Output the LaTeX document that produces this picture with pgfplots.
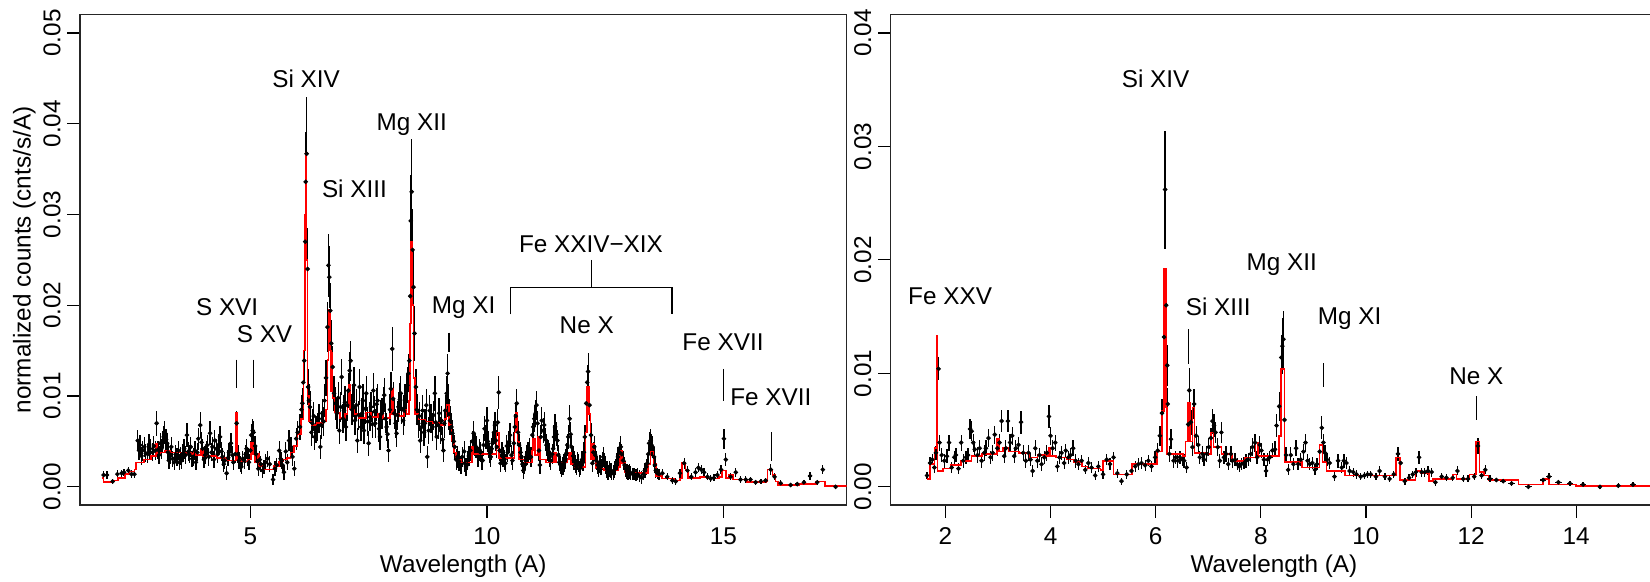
\documentclass[border=0pt]{standalone}
\usepackage{pgfplots}
\pgfplotsset{compat=1.18}
\usepackage{pgfplotstable}
\usepackage{fontspec}
\setmainfont{Liberation Sans}

% left panel data: x y err
\pgfplotstableread{
x y e
1.90 0.0013 0.0004
1.97 0.0013 0.0004
2.09 0.0006 0.0003
2.19 0.0014 0.0004
2.28 0.0015 0.0004
2.33 0.0016 0.0004
2.42 0.0018 0.0004
2.49 0.0014 0.0004
2.55 0.0014 0.0004
2.62 0.0051 0.0012
2.65 0.0040 0.0010
2.67 0.0046 0.0011
2.70 0.0034 0.0010
2.72 0.0040 0.0011
2.76 0.0044 0.0011
2.79 0.0037 0.0010
2.83 0.0036 0.0010
2.86 0.0047 0.0011
2.88 0.0042 0.0011
2.93 0.0038 0.0010
2.96 0.0045 0.0011
2.99 0.0040 0.0010
3.02 0.0070 0.0014
3.05 0.0041 0.0010
3.07 0.0035 0.0010
3.10 0.0048 0.0011
3.12 0.0042 0.0011
3.15 0.0050 0.0012
3.17 0.0055 0.0012
3.19 0.0060 0.0013
3.22 0.0052 0.0012
3.24 0.0048 0.0011
3.26 0.0038 0.0010
3.28 0.0029 0.0009
3.31 0.0035 0.0010
3.33 0.0044 0.0011
3.36 0.0031 0.0009
3.39 0.0027 0.0009
3.42 0.0036 0.0010
3.45 0.0033 0.0010
3.48 0.0040 0.0010
3.50 0.0027 0.0009
3.53 0.0034 0.0010
3.55 0.0029 0.0009
3.58 0.0037 0.0010
3.60 0.0042 0.0011
3.63 0.0035 0.0010
3.66 0.0057 0.0013
3.69 0.0039 0.0010
3.71 0.0036 0.0010
3.74 0.0044 0.0011
3.77 0.0031 0.0009
3.80 0.0033 0.0010
3.83 0.0040 0.0010
3.85 0.0027 0.0009
3.88 0.0038 0.0010
3.90 0.0053 0.0012
3.94 0.0068 0.0014
3.97 0.0049 0.0011
3.99 0.0042 0.0011
4.02 0.0030 0.0009
4.04 0.0035 0.0010
4.07 0.0041 0.0010
4.09 0.0046 0.0011
4.12 0.0033 0.0010
4.15 0.0059 0.0013
4.18 0.0038 0.0010
4.20 0.0044 0.0011
4.23 0.0030 0.0009
4.25 0.0051 0.0012
4.28 0.0042 0.0011
4.31 0.0036 0.0010
4.34 0.0047 0.0011
4.36 0.0055 0.0012
4.39 0.0039 0.0010
4.41 0.0033 0.0010
4.44 0.0025 0.0009
4.46 0.0029 0.0009
4.50 0.0015 0.0008
4.53 0.0032 0.0009
4.55 0.0038 0.0010
4.59 0.0048 0.0011
4.62 0.0035 0.0010
4.64 0.0027 0.0009
4.68 0.0036 0.0010
4.71 0.0070 0.0014
4.74 0.0036 0.0010
4.76 0.0029 0.0009
4.79 0.0025 0.0009
4.81 0.0022 0.0008
4.84 0.0031 0.0009
4.87 0.0029 0.0009
4.90 0.0036 0.0010
4.92 0.0042 0.0011
4.95 0.0033 0.0010
4.97 0.0027 0.0009
5.00 0.0040 0.0010
5.02 0.0057 0.0012
5.05 0.0062 0.0013
5.07 0.0060 0.0013
5.10 0.0045 0.0011
5.12 0.0036 0.0010
5.15 0.0028 0.0009
5.17 0.0020 0.0008
5.20 0.0030 0.0009
5.22 0.0025 0.0009
5.26 0.0018 0.0008
5.29 0.0022 0.0008
5.32 0.0027 0.0009
5.36 0.0031 0.0009
5.41 0.0025 0.0009
5.48 0.0008 0.0006
5.52 0.0020 0.0008
5.56 0.0024 0.0008
5.61 0.0040 0.0010
5.64 0.0031 0.0009
5.66 0.0029 0.0009
5.68 0.0024 0.0008
5.71 0.0016 0.0008
5.75 0.0039 0.0010
5.78 0.0027 0.0009
5.82 0.0051 0.0012
5.86 0.0044 0.0011
5.89 0.0033 0.0010
5.93 0.0020 0.0008
5.97 0.0053 0.0012
6.00 0.0060 0.0013
6.05 0.0066 0.0014
6.08 0.0085 0.0016
6.10 0.0092 0.0017
6.12 0.0115 0.0020
6.14 0.0139 0.0022
6.16 0.0270 0.0045
6.17 0.0336 0.0055
6.19 0.0367 0.0062
6.21 0.0240 0.0045
6.22 0.0110 0.0020
6.24 0.0095 0.0018
6.26 0.0088 0.0018
6.29 0.0060 0.0015
6.31 0.0070 0.0016
6.34 0.0078 0.0016
6.36 0.0055 0.0014
6.39 0.0063 0.0015
6.42 0.0066 0.0015
6.45 0.0075 0.0016
6.48 0.0044 0.0013
6.50 0.0068 0.0015
6.52 0.0081 0.0016
6.55 0.0072 0.0016
6.57 0.0095 0.0018
6.60 0.0120 0.0020
6.63 0.0176 0.0028
6.65 0.0244 0.0035
6.67 0.0231 0.0034
6.69 0.0194 0.0030
6.71 0.0158 0.0026
6.74 0.0132 0.0023
6.77 0.0103 0.0019
6.80 0.0092 0.0018
6.83 0.0081 0.0017
6.86 0.0098 0.0018
6.88 0.0062 0.0015
6.91 0.0088 0.0017
6.93 0.0121 0.0020
6.96 0.0075 0.0016
6.98 0.0084 0.0017
7.00 0.0093 0.0018
7.02 0.0066 0.0015
7.05 0.0090 0.0018
7.07 0.0106 0.0019
7.10 0.0128 0.0021
7.12 0.0139 0.0022
7.15 0.0085 0.0017
7.17 0.0095 0.0018
7.19 0.0112 0.0020
7.21 0.0073 0.0016
7.24 0.0090 0.0018
7.26 0.0051 0.0014
7.29 0.0079 0.0016
7.31 0.0110 0.0020
7.34 0.0066 0.0015
7.36 0.0081 0.0017
7.38 0.0095 0.0018
7.40 0.0062 0.0015
7.43 0.0086 0.0017
7.45 0.0103 0.0019
7.48 0.0072 0.0016
7.50 0.0048 0.0014
7.53 0.0077 0.0016
7.55 0.0088 0.0017
7.58 0.0069 0.0015
7.60 0.0106 0.0019
7.62 0.0083 0.0017
7.64 0.0070 0.0016
7.67 0.0091 0.0018
7.69 0.0095 0.0018
7.72 0.0064 0.0015
7.74 0.0055 0.0014
7.76 0.0080 0.0016
7.78 0.0081 0.0017
7.81 0.0092 0.0018
7.83 0.0101 0.0019
7.86 0.0075 0.0016
7.88 0.0066 0.0015
7.90 0.0058 0.0015
7.92 0.0040 0.0013
7.95 0.0085 0.0017
7.97 0.0108 0.0019
8.00 0.0152 0.0024
8.02 0.0097 0.0018
8.04 0.0081 0.0017
8.07 0.0070 0.0016
8.09 0.0059 0.0015
8.11 0.0079 0.0016
8.13 0.0088 0.0017
8.16 0.0096 0.0018
8.18 0.0103 0.0019
8.20 0.0086 0.0017
8.23 0.0073 0.0016
8.25 0.0084 0.0017
8.27 0.0095 0.0018
8.30 0.0105 0.0019
8.32 0.0112 0.0020
8.34 0.0125 0.0021
8.36 0.0139 0.0022
8.38 0.0210 0.0035
8.39 0.0293 0.0050
8.41 0.0325 0.0058
8.43 0.0261 0.0045
8.45 0.0220 0.0040
8.47 0.0169 0.0030
8.50 0.0110 0.0020
8.52 0.0085 0.0017
8.55 0.0070 0.0016
8.57 0.0078 0.0016
8.59 0.0051 0.0014
8.62 0.0066 0.0015
8.64 0.0084 0.0017
8.67 0.0060 0.0015
8.69 0.0070 0.0016
8.72 0.0090 0.0018
8.74 0.0033 0.0012
8.77 0.0062 0.0015
8.79 0.0084 0.0017
8.82 0.0075 0.0016
8.85 0.0066 0.0015
8.87 0.0079 0.0016
8.90 0.0103 0.0019
8.92 0.0071 0.0016
8.94 0.0055 0.0014
8.97 0.0068 0.0015
8.99 0.0081 0.0017
9.02 0.0062 0.0015
9.04 0.0073 0.0016
9.06 0.0052 0.0014
9.08 0.0040 0.0013
9.10 0.0070 0.0016
9.12 0.0084 0.0017
9.15 0.0103 0.0019
9.17 0.0125 0.0021
9.18 0.0095 0.0018
9.20 0.0080 0.0017
9.22 0.0073 0.0016
9.25 0.0066 0.0015
9.27 0.0059 0.0015
9.30 0.0050 0.0014
9.32 0.0044 0.0013
9.35 0.0030 0.0012
9.38 0.0033 0.0012
9.41 0.0028 0.0011
9.45 0.0024 0.0010
9.48 0.0033 0.0011
9.52 0.0039 0.0011
9.53 0.0026 0.0010
9.56 0.0022 0.0010
9.59 0.0029 0.0011
9.62 0.0034 0.0011
9.65 0.0040 0.0012
9.69 0.0050 0.0012
9.72 0.0059 0.0013
9.75 0.0046 0.0012
9.77 0.0044 0.0012
9.81 0.0033 0.0011
9.84 0.0041 0.0012
9.86 0.0038 0.0011
9.89 0.0030 0.0011
9.91 0.0029 0.0011
9.93 0.0046 0.0012
9.95 0.0064 0.0014
9.98 0.0055 0.0013
10.00 0.0073 0.0015
10.02 0.0050 0.0012
10.04 0.0044 0.0012
10.06 0.0037 0.0011
10.08 0.0033 0.0011
10.10 0.0042 0.0012
10.12 0.0048 0.0012
10.15 0.0060 0.0013
10.17 0.0068 0.0014
10.19 0.0051 0.0012
10.21 0.0044 0.0012
10.23 0.0071 0.0015
10.25 0.0104 0.0018
10.27 0.0040 0.0012
10.29 0.0026 0.0010
10.32 0.0038 0.0011
10.34 0.0033 0.0011
10.37 0.0030 0.0011
10.39 0.0026 0.0010
10.42 0.0045 0.0012
10.44 0.0038 0.0011
10.47 0.0050 0.0012
10.49 0.0057 0.0013
10.52 0.0035 0.0011
10.54 0.0029 0.0011
10.57 0.0048 0.0012
10.59 0.0066 0.0014
10.61 0.0078 0.0015
10.63 0.0092 0.0016
10.66 0.0060 0.0013
10.68 0.0046 0.0012
10.71 0.0038 0.0011
10.73 0.0033 0.0011
10.75 0.0025 0.0010
10.77 0.0018 0.0009
10.80 0.0024 0.0010
10.82 0.0029 0.0011
10.85 0.0035 0.0011
10.87 0.0038 0.0011
10.90 0.0042 0.0012
10.93 0.0033 0.0011
10.96 0.0057 0.0013
10.98 0.0066 0.0014
11.00 0.0075 0.0015
11.03 0.0081 0.0015
11.05 0.0090 0.0016
11.07 0.0070 0.0014
11.10 0.0040 0.0012
11.12 0.0024 0.0010
11.14 0.0055 0.0013
11.16 0.0073 0.0015
11.19 0.0062 0.0014
11.21 0.0068 0.0014
11.24 0.0052 0.0013
11.26 0.0046 0.0012
11.29 0.0040 0.0012
11.31 0.0037 0.0011
11.33 0.0033 0.0011
11.35 0.0029 0.0011
11.38 0.0036 0.0011
11.40 0.0042 0.0012
11.42 0.0055 0.0013
11.44 0.0066 0.0014
11.47 0.0058 0.0013
11.49 0.0051 0.0012
11.51 0.0035 0.0011
11.53 0.0027 0.0010
11.56 0.0024 0.0010
11.58 0.0020 0.0009
11.61 0.0023 0.0010
11.63 0.0026 0.0010
11.66 0.0031 0.0011
11.68 0.0037 0.0011
11.70 0.0046 0.0012
11.72 0.0055 0.0013
11.75 0.0075 0.0015
11.77 0.0058 0.0013
11.79 0.0044 0.0012
11.82 0.0034 0.0011
11.84 0.0029 0.0010
11.87 0.0025 0.0010
11.89 0.0022 0.0009
11.91 0.0028 0.0010
11.93 0.0026 0.0010
11.96 0.0020 0.0009
11.98 0.0022 0.0009
12.01 0.0030 0.0010
12.03 0.0027 0.0010
12.05 0.0038 0.0011
12.07 0.0055 0.0013
12.10 0.0092 0.0017
12.12 0.0115 0.0019
12.14 0.0127 0.0020
12.17 0.0090 0.0017
12.20 0.0057 0.0013
12.23 0.0026 0.0010
12.25 0.0038 0.0011
12.27 0.0044 0.0012
12.29 0.0035 0.0011
12.31 0.0029 0.0010
12.34 0.0024 0.0010
12.36 0.0020 0.0009
12.39 0.0025 0.0010
12.41 0.0022 0.0009
12.44 0.0028 0.0010
12.46 0.0033 0.0011
12.49 0.0027 0.0010
12.51 0.0024 0.0010
12.54 0.0019 0.0009
12.56 0.0016 0.0008
12.59 0.0020 0.0009
12.62 0.0018 0.0008
12.64 0.0015 0.0008
12.67 0.0016 0.0008
12.70 0.0019 0.0009
12.72 0.0022 0.0009
12.75 0.0027 0.0010
12.77 0.0033 0.0011
12.80 0.0038 0.0011
12.83 0.0044 0.0012
12.85 0.0036 0.0011
12.88 0.0029 0.0010
12.91 0.0024 0.0009
12.93 0.0020 0.0009
12.96 0.0017 0.0008
12.98 0.0016 0.0008
13.01 0.0017 0.0008
13.04 0.0015 0.0008
13.08 0.0014 0.0007
13.11 0.0014 0.0007
13.15 0.0013 0.0007
13.18 0.0014 0.0007
13.22 0.0012 0.0007
13.27 0.0010 0.0007
13.31 0.0014 0.0007
13.34 0.0018 0.0008
13.37 0.0022 0.0009
13.39 0.0026 0.0010
13.41 0.0036 0.0011
13.43 0.0048 0.0012
13.46 0.0051 0.0013
13.48 0.0046 0.0012
13.50 0.0044 0.0012
13.53 0.0033 0.0011
13.55 0.0024 0.0009
13.57 0.0018 0.0008
13.60 0.0015 0.0006
13.64 0.0014 0.0006
}\leftdata

\pgfplotstableread{
x y e
13.71 0.0015 0.0005
13.81 0.0011 0.0004
13.92 0.0007 0.0004
13.99 0.0006 0.0004
14.08 0.0015 0.0005
14.17 0.0026 0.0006
14.24 0.0018 0.0005
14.32 0.0011 0.0004
14.41 0.0016 0.0005
14.47 0.0021 0.0005
14.53 0.0019 0.0005
14.59 0.0016 0.0005
14.66 0.0011 0.0004
14.73 0.0009 0.0004
14.80 0.0010 0.0004
14.87 0.0013 0.0004
14.95 0.0019 0.0005
15.01 0.0053 0.0011
15.05 0.0030 0.0007
15.15 0.0011 0.0004
15.26 0.0016 0.0005
15.36 0.0008 0.0004
15.47 0.0008 0.0004
15.57 0.0008 0.0003
15.68 0.0005 0.0003
15.79 0.0006 0.0003
15.89 0.0007 0.0003
16.00 0.0019 0.0006
16.08 0.0011 0.0004
16.21 0.0004 0.0003
16.42 0.0002 0.0002
16.56 0.0003 0.0002
16.70 0.0005 0.0003
16.83 0.0012 0.0004
16.98 0.0005 0.0003
17.10 0.0019 0.0005
17.37 0.0000 0.0002
}\lefttail

% left panel model (step function)
\pgfplotstableread{
x y
1.87 0.0010
1.90 0.0005
2.10 0.0007
2.20 0.0010
2.35 0.0014
2.45 0.0017
2.55 0.0019
2.58 0.0027
2.75 0.0030
2.90 0.0034
3.00 0.0047
3.04 0.0036
3.10 0.0038
3.20 0.0040
3.30 0.0038
3.60 0.0037
3.75 0.0036
3.80 0.0039
3.85 0.0035
3.96 0.0041
4.00 0.0034
4.30 0.0032
4.50 0.0029
4.70 0.0082
4.73 0.0030
4.80 0.0028
4.95 0.0030
5.02 0.0049
5.06 0.0036
5.10 0.0027
5.15 0.0036
5.18 0.0023
5.30 0.0019
5.50 0.0023
5.60 0.0028
5.70 0.0030
5.78 0.0032
5.85 0.0038
5.92 0.0045
6.00 0.0058
6.07 0.0075
6.12 0.0150
6.15 0.0300
6.17 0.0368
6.19 0.0250
6.21 0.0100
6.24 0.0072
6.30 0.0068
6.40 0.0070
6.55 0.0072
6.60 0.0085
6.63 0.0140
6.65 0.0195
6.68 0.0150
6.70 0.0105
6.72 0.0148
6.74 0.0098
6.78 0.0082
6.90 0.0076
7.00 0.0080
7.05 0.0090
7.08 0.0112
7.11 0.0085
7.20 0.0080
7.30 0.0076
7.45 0.0082
7.55 0.0077
7.70 0.0081
7.80 0.0076
7.95 0.0080
7.99 0.0108
8.03 0.0080
8.15 0.0078
8.25 0.0085
8.30 0.0080
8.35 0.0095
8.38 0.0180
8.40 0.0270
8.43 0.0200
8.45 0.0120
8.48 0.0080
8.55 0.0074
8.70 0.0072
8.85 0.0070
9.00 0.0068
9.10 0.0075
9.15 0.0090
9.20 0.0068
9.25 0.0050
9.30 0.0038
9.35 0.0030
9.45 0.0027
9.68 0.0044
9.71 0.0036
10.20 0.0060
10.26 0.0032
10.55 0.0032
10.58 0.0060
10.61 0.0082
10.65 0.0050
10.68 0.0030
10.80 0.0027
10.95 0.0040
10.98 0.0053
11.02 0.0035
11.08 0.0055
11.12 0.0030
11.25 0.0027
11.42 0.0037
11.46 0.0027
11.70 0.0030
11.74 0.0037
11.78 0.0025
11.85 0.0022
12.05 0.0022
12.08 0.0060
12.11 0.0110
12.16 0.0080
12.19 0.0030
12.22 0.0047
12.26 0.0030
12.30 0.0020
12.48 0.0018
12.78 0.0022
12.81 0.0040
12.86 0.0026
12.92 0.0016
13.00 0.0015
13.30 0.0015
13.40 0.0025
13.46 0.0039
13.52 0.0025
13.58 0.0012
13.70 0.0009
13.95 0.0007
14.08 0.0009
14.12 0.0027
14.20 0.0018
14.25 0.0010
14.50 0.0011
14.65 0.0009
14.90 0.0011
14.97 0.0018
15.05 0.0010
15.12 0.0013
15.20 0.0008
15.50 0.0005
15.90 0.0006
15.93 0.0019
16.04 0.0013
16.10 0.0006
16.15 0.0002
16.60 0.0003
16.95 0.0006
17.15 0.0001
17.60 0.0000
}\leftmodel

% right panel data
\pgfplotstableread{
x y e
1.65 0.0010 0.0003
1.71 0.0021 0.0005
1.75 0.0024 0.0005
1.79 0.0017 0.0005
1.82 0.0030 0.0006
1.87 0.0104 0.0010
1.89 0.0039 0.0007
1.93 0.0028 0.0006
1.98 0.0023 0.0006
2.03 0.0027 0.0006
2.07 0.0039 0.0007
2.12 0.0017 0.0005
2.17 0.0026 0.0006
2.20 0.0028 0.0006
2.25 0.0016 0.0005
2.30 0.0039 0.0007
2.34 0.0023 0.0006
2.39 0.0026 0.0006
2.43 0.0028 0.0006
2.47 0.0051 0.0009
2.50 0.0049 0.0009
2.53 0.0039 0.0008
2.56 0.0033 0.0007
2.61 0.0028 0.0007
2.65 0.0034 0.0007
2.69 0.0023 0.0006
2.74 0.0030 0.0007
2.77 0.0034 0.0007
2.82 0.0043 0.0008
2.86 0.0026 0.0006
2.90 0.0030 0.0007
2.94 0.0046 0.0008
2.99 0.0034 0.0007
3.03 0.0039 0.0008
3.07 0.0058 0.0010
3.12 0.0027 0.0006
3.15 0.0034 0.0007
3.19 0.0058 0.0010
3.23 0.0039 0.0008
3.27 0.0045 0.0008
3.31 0.0027 0.0006
3.34 0.0034 0.0007
3.39 0.0037 0.0007
3.44 0.0057 0.0010
3.48 0.0030 0.0007
3.53 0.0023 0.0006
3.58 0.0030 0.0007
3.62 0.0024 0.0006
3.66 0.0014 0.0005
3.71 0.0034 0.0007
3.75 0.0023 0.0006
3.79 0.0028 0.0006
3.83 0.0020 0.0006
3.88 0.0026 0.0006
3.93 0.0030 0.0007
3.97 0.0062 0.0010
4.00 0.0045 0.0008
4.04 0.0034 0.0007
4.09 0.0039 0.0007
4.13 0.0018 0.0005
4.17 0.0026 0.0006
4.21 0.0030 0.0006
4.26 0.0021 0.0005
4.29 0.0032 0.0006
4.34 0.0026 0.0006
4.38 0.0028 0.0006
4.43 0.0034 0.0007
4.48 0.0023 0.0006
4.53 0.0020 0.0005
4.59 0.0023 0.0005
4.66 0.0015 0.0004
4.72 0.0021 0.0005
4.78 0.0017 0.0005
4.85 0.0010 0.0004
4.91 0.0018 0.0005
5.00 0.0011 0.0004
5.07 0.0024 0.0005
5.13 0.0020 0.0005
5.20 0.0026 0.0005
5.27 0.0012 0.0004
5.35 0.0005 0.0003
5.45 0.0011 0.0004
5.54 0.0014 0.0004
5.61 0.0018 0.0005
5.67 0.0020 0.0005
5.73 0.0021 0.0005
5.80 0.0019 0.0005
5.86 0.0023 0.0005
5.92 0.0018 0.0005
5.99 0.0026 0.0006
6.04 0.0032 0.0007
6.08 0.0045 0.0009
6.12 0.0065 0.0012
6.16 0.0132 0.0020
6.18 0.0262 0.0052
6.20 0.0160 0.0025
6.22 0.0107 0.0018
6.23 0.0073 0.0014
6.26 0.0029 0.0007
6.29 0.0042 0.0009
6.34 0.0023 0.0006
6.38 0.0026 0.0006
6.42 0.0023 0.0006
6.46 0.0026 0.0006
6.51 0.0024 0.0006
6.54 0.0023 0.0006
6.59 0.0017 0.0005
6.62 0.0055 0.0011
6.64 0.0085 0.0020
6.67 0.0057 0.0011
6.70 0.0035 0.0008
6.73 0.0073 0.0013
6.77 0.0045 0.0009
6.81 0.0037 0.0008
6.84 0.0026 0.0006
6.89 0.0029 0.0007
6.92 0.0024 0.0006
6.97 0.0029 0.0007
7.01 0.0035 0.0008
7.05 0.0043 0.0009
7.08 0.0058 0.0011
7.11 0.0054 0.0010
7.14 0.0048 0.0009
7.18 0.0035 0.0008
7.22 0.0023 0.0006
7.25 0.0048 0.0009
7.30 0.0026 0.0006
7.34 0.0029 0.0007
7.38 0.0020 0.0005
7.43 0.0029 0.0007
7.46 0.0023 0.0006
7.51 0.0024 0.0006
7.55 0.0020 0.0005
7.59 0.0018 0.0005
7.63 0.0020 0.0005
7.68 0.0021 0.0005
7.72 0.0023 0.0006
7.76 0.0024 0.0006
7.81 0.0029 0.0007
7.84 0.0035 0.0008
7.89 0.0039 0.0008
7.93 0.0026 0.0006
7.98 0.0037 0.0008
8.01 0.0032 0.0007
8.06 0.0024 0.0006
8.10 0.0014 0.0005
8.13 0.0024 0.0006
8.17 0.0026 0.0006
8.22 0.0032 0.0007
8.27 0.0033 0.0007
8.30 0.0054 0.0010
8.35 0.0071 0.0013
8.39 0.0114 0.0020
8.41 0.0124 0.0025
8.43 0.0130 0.0025
8.45 0.0059 0.0011
8.48 0.0028 0.0007
8.52 0.0015 0.0005
8.57 0.0028 0.0007
8.62 0.0020 0.0005
8.67 0.0034 0.0007
8.71 0.0020 0.0005
8.76 0.0024 0.0006
8.81 0.0031 0.0007
8.85 0.0039 0.0008
8.89 0.0023 0.0006
8.93 0.0020 0.0005
8.98 0.0021 0.0005
9.03 0.0015 0.0005
9.07 0.0020 0.0005
9.12 0.0031 0.0007
9.16 0.0052 0.0010
9.19 0.0039 0.0008
9.22 0.0030 0.0007
9.26 0.0024 0.0006
9.31 0.0021 0.0005
9.40 0.0009 0.0004
9.47 0.0023 0.0006
9.54 0.0017 0.0005
9.58 0.0023 0.0006
9.63 0.0021 0.0005
9.69 0.0014 0.0004
9.76 0.0013 0.0004
9.82 0.0011 0.0004
9.90 0.0009 0.0003
9.97 0.0010 0.0003
10.03 0.0011 0.0003
10.09 0.0011 0.0003
10.19 0.0009 0.0003
10.26 0.0014 0.0004
10.36 0.0009 0.0003
10.45 0.0007 0.0003
10.53 0.0011 0.0003
10.61 0.0029 0.0006
10.66 0.0021 0.0005
10.74 0.0005 0.0003
10.82 0.0008 0.0003
10.89 0.0011 0.0003
10.95 0.0013 0.0004
11.01 0.0026 0.0006
11.06 0.0013 0.0004
11.12 0.0013 0.0004
11.18 0.0014 0.0004
11.25 0.0013 0.0004
11.32 0.0004 0.0003
11.44 0.0009 0.0003
11.53 0.0008 0.0003
11.65 0.0008 0.0003
11.74 0.0014 0.0004
11.85 0.0007 0.0003
11.94 0.0007 0.0003
12.06 0.0009 0.0003
12.13 0.0036 0.0007
12.20 0.0010 0.0003
12.27 0.0015 0.0004
}\rightdata

\pgfplotstableread{
x y e
12.36 0.0007 0.0003
12.48 0.0006 0.0002
12.61 0.0005 0.0002
12.77 0.0003 0.0002
13.09 0.0000 0.0002
13.37 0.0006 0.0002
13.48 0.0009 0.0003
13.66 0.0004 0.0002
13.88 0.0003 0.0002
14.13 0.0002 0.0002
14.45 0.0000 0.0002
14.80 0.0001 0.0002
15.08 0.0002 0.0002
}\righttail

% right panel model
\pgfplotstableread{
x y
1.65 0.0007
1.71 0.0020
1.79 0.0034
1.83 0.0133
1.85 0.0014
1.95 0.0016
2.10 0.0019
2.30 0.0023
2.50 0.0027
2.70 0.0029
2.98 0.0042
3.02 0.0031
3.10 0.0034
3.20 0.0031
3.40 0.0030
3.60 0.0026
3.75 0.0028
3.92 0.0027
3.97 0.0034
3.99 0.0027
4.10 0.0026
4.30 0.0024
4.45 0.0022
4.60 0.0018
4.70 0.0016
4.95 0.0015
5.00 0.0023
5.20 0.0011
5.55 0.0020
5.90 0.0020
6.02 0.0031
6.12 0.0067
6.16 0.0192
6.20 0.0070
6.22 0.0029
6.52 0.0027
6.57 0.0040
6.61 0.0074
6.65 0.0040
6.70 0.0070
6.74 0.0030
6.98 0.0029
7.05 0.0048
7.10 0.0035
7.25 0.0029
7.45 0.0023
7.70 0.0026
7.90 0.0039
7.95 0.0027
8.20 0.0027
8.35 0.0045
8.38 0.0104
8.45 0.0022
8.78 0.0017
9.12 0.0037
9.17 0.0022
9.25 0.0014
9.60 0.0010
10.57 0.0026
10.65 0.0006
10.94 0.0014
11.04 0.0012
11.20 0.0005
11.28 0.0007
11.66 0.0011
11.72 0.0007
11.97 0.0011
12.09 0.0040
12.16 0.0013
12.25 0.0010
12.33 0.0006
12.90 0.0002
13.37 0.0007
13.48 0.0002
14.00 0.0001
15.54 0.0000
}\rightmodel

\pgfplotsset{
  refaxis/.style={
    scale only axis, width=383.25pt, height=245.1pt,
    axis line style={line width=0.6pt, black!85},
    tick align=outside, xtick pos=bottom, ytick pos=left,
    major tick length=6.3pt,
    every tick/.style={line width=0.6pt, black},
    scaled y ticks=false,
    /pgf/number format/assume math mode=true,
    yticklabel style={rotate=90, anchor=south, inner sep=0pt,
      /pgf/number format/fixed, /pgf/number format/fixed zerofill,
      /pgf/number format/precision=2},
    yticklabel shift=3.2pt,
    xticklabel style={anchor=base, inner sep=0pt},
    xticklabel shift=13.6pt,
    xlabel={Wavelength (A)},
    xlabel style={at={(axis description cs:0.5,-0.1387)}, anchor=base, inner sep=0pt},
  },
  datastyle/.style={only marks, mark=*, mark size=0.95pt, black,
    error bars/.cd, y dir=both, y explicit, x dir=both, x fixed=#1,
    error mark=none, error bar style={line width=0.65pt, black}},
  modelstyle/.style={const plot, red, line width=0.8pt, mark=none},
}

\begin{document}
\fontsize{12.15pt}{14pt}\selectfont
\begin{tikzpicture}
\useasboundingbox (0,0) rectangle (825pt,291pt);
% ---------------- left panel ----------------
\begin{axis}[refaxis, at={(40pt,38.5pt)}, anchor=south west,
  xmin=1.4, xmax=17.6, ymin=-0.002, ymax=0.052,
  xtick={5,10,15}, ytick={0,0.01,0.02,0.03,0.04,0.05},
  ylabel={normalized counts (cnts/s/A)},
  ylabel style={at={(axis description cs:-0.0643,0.5)}, anchor=base, inner sep=0pt},
]
\addplot[datastyle=0.012] table[x=x, y=y, y error=e] {\leftdata};
\addplot[datastyle=0.04] table[x=x, y=y, y error=e] {\lefttail};
\addplot[modelstyle] table[x=x, y=y] {\leftmodel};
\node[anchor=base] at (axis cs:6.18,0.0440) {Si XIV};
\node[anchor=base] at (axis cs:8.41,0.0393) {Mg XII};
\node[anchor=base] at (axis cs:7.20,0.0319) {Si XIII};
\node[anchor=base] at (axis cs:4.51,0.0189) {S XVI};
\node[anchor=base] at (axis cs:5.30,0.0159) {S XV};
\node[anchor=base] at (axis cs:9.51,0.0191) {Mg XI};
\node[anchor=base] at (axis cs:12.20,0.0258) {Fe XXIV−XIX};
\node[anchor=base] at (axis cs:12.11,0.0169) {Ne X};
\node[anchor=base] at (axis cs:14.99,0.0150) {Fe XVII};
\node[anchor=base] at (axis cs:16.00,0.0090) {Fe XVII};
\draw[line width=0.6pt] (axis cs:4.708,0.0140) -- (axis cs:4.708,0.0109);
\draw[line width=0.6pt] (axis cs:5.067,0.0140) -- (axis cs:5.067,0.0109);
\draw[line width=0.6pt] (axis cs:9.20,0.0170) -- (axis cs:9.20,0.0149);
\draw[line width=0.6pt] (axis cs:12.21,0.0250) -- (axis cs:12.21,0.0220);
\draw[line width=0.6pt] (axis cs:10.50,0.0190) -- (axis cs:10.50,0.0220) -- (axis cs:13.91,0.0220) -- (axis cs:13.91,0.0190);
\draw[line width=0.6pt] (axis cs:15.00,0.0130) -- (axis cs:15.00,0.0095);
\draw[line width=0.6pt] (axis cs:16.01,0.0060) -- (axis cs:16.01,0.0029);
\end{axis}
% ---------------- right panel ----------------
\begin{axis}[refaxis, at={(445.35pt,38.5pt)}, anchor=south west,
  xmin=0.96, xmax=15.54, ymin=-0.0016, ymax=0.0416,
  xtick={2,4,6,8,10,12,14}, ytick={0,0.01,0.02,0.03,0.04},
]
\addplot[datastyle=0.015] table[x=x, y=y, y error=e] {\rightdata};
\addplot[datastyle=0.06] table[x=x, y=y, y error=e] {\righttail};
\addplot[modelstyle] table[x=x, y=y] {\rightmodel};
\node[anchor=base] at (axis cs:2.09,0.0161) {Fe XXV};
\node[anchor=base] at (axis cs:6.00,0.0352) {Si XIV};
\node[anchor=base] at (axis cs:7.19,0.0151) {Si XIII};
\node[anchor=base] at (axis cs:8.40,0.0191) {Mg XII};
\node[anchor=base] at (axis cs:9.69,0.0143) {Mg XI};
\node[anchor=base] at (axis cs:12.10,0.0090) {Ne X};
\draw[line width=0.6pt] (axis cs:6.62,0.0139) -- (axis cs:6.62,0.0108);
\draw[line width=0.6pt] (axis cs:9.19,0.0109) -- (axis cs:9.19,0.0088);
\draw[line width=0.6pt] (axis cs:12.10,0.0080) -- (axis cs:12.10,0.0059);
\end{axis}
\end{tikzpicture}
\end{document}
